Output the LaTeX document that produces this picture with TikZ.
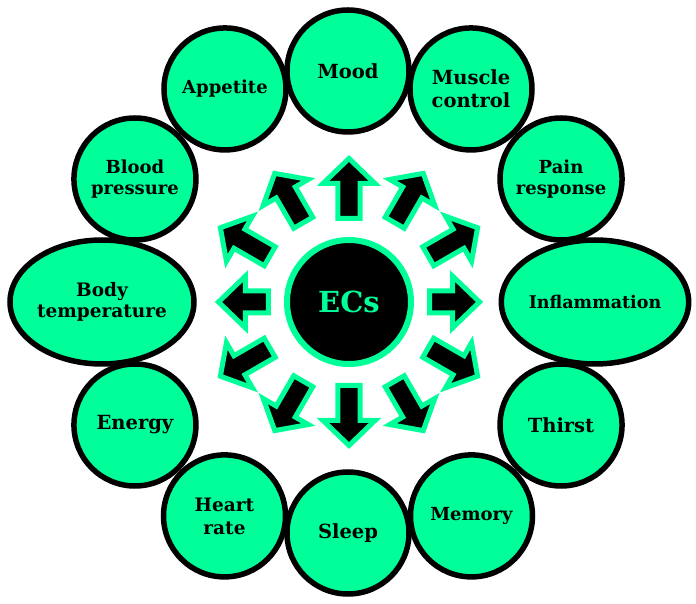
\documentclass[tikz,border=0pt]{standalone}
\usepackage{fontspec}
\usetikzlibrary{shapes.geometric}
\newfontfamily\slabfont{DejaVu Serif}
\definecolor{ecgreen}{RGB}{0,255,153}

\tikzset{
  effect/.style={circle, draw=black, line width=5.5pt, fill=ecgreen,
    minimum size=122pt, inner sep=0pt, align=center,
    font=\slabfont\bfseries\fontsize{18}{21}\selectfont},
  wide effect/.style={effect, ellipse, minimum width=184pt, minimum height=124pt},
  big/.style={font=\slabfont\bfseries\fontsize{19.5}{23}\selectfont},
  pics/burst/.style n args={3}{code={
    \draw[ecgreen, fill=black, line width=5pt, line join=miter, miter limit=10]
      (#1,-11) -- (#2,-11) -- (#2,-26) -- (#3,0) -- (#2,26) -- (#2,11) -- (#1,11) -- cycle;
  }},
}

\begin{document}
\begin{tikzpicture}[x=1pt, y=1pt]

  \useasboundingbox (-348,-302) rectangle (348,302);

  \node[effect, big] (mood) at (0,231) {Mood};
  \node[effect, big] (muscle) at (60:246) {Muscle\\control};
  \node[effect] (pain) at (30:246) {Pain\\response};
  \node[wide effect, font=\slabfont\bfseries\fontsize{17.5}{21}\selectfont] (inflam) at (0:247) {Inflammation};
  \node[effect, big] (thirst) at (-30:246) {Thirst};
  \node[effect] (memory) at (-60:247) {Memory};
  \node[effect, big] (sleep) at (0,-231) {Sleep};
  \node[effect, font=\slabfont\bfseries\fontsize{18.5}{23}\selectfont] (heart) at (-120:247) {Heart\\rate};
  \node[effect, big] (energy) at (-150:246) {Energy};
  \node[wide effect, font=\slabfont\bfseries\fontsize{18.5}{21}\selectfont] (bodytemp) at (180:246) {Body\\temperature};
  \node[effect] (blood) at (150:246) {Blood\\pressure};
  \node[effect] (appetite) at (120:246) {Appetite};

  \node[circle, draw=ecgreen, line width=6pt, fill=black, minimum size=124pt,
    text=ecgreen, font=\slabfont\bfseries\fontsize{29}{34}\selectfont] (ecs) at (1,0) {ECs};

  \pic[rotate=0] at (ecs.center) {burst={80.5}{103.5}{130.5}};
  \pic[rotate=30] at (ecs.center) {burst={91.5}{126.5}{148.5}};
  \pic[rotate=60] at (ecs.center) {burst={91.5}{126.5}{148.5}};
  \pic[rotate=90] at (ecs.center) {burst={83.5}{118.5}{143.5}};
  \pic[rotate=120] at (ecs.center) {burst={91.5}{126.5}{148.5}};
  \pic[rotate=150] at (ecs.center) {burst={91.5}{126.5}{148.5}};
  \pic[rotate=180] at (ecs.center) {burst={80.5}{103.5}{130.5}};
  \pic[rotate=210] at (ecs.center) {burst={91.5}{126.5}{148.5}};
  \pic[rotate=240] at (ecs.center) {burst={91.5}{126.5}{148.5}};
  \pic[rotate=270] at (ecs.center) {burst={83.5}{118.5}{143.5}};
  \pic[rotate=300] at (ecs.center) {burst={91.5}{126.5}{148.5}};
  \pic[rotate=330] at (ecs.center) {burst={91.5}{126.5}{148.5}};

\end{tikzpicture}
\end{document}
